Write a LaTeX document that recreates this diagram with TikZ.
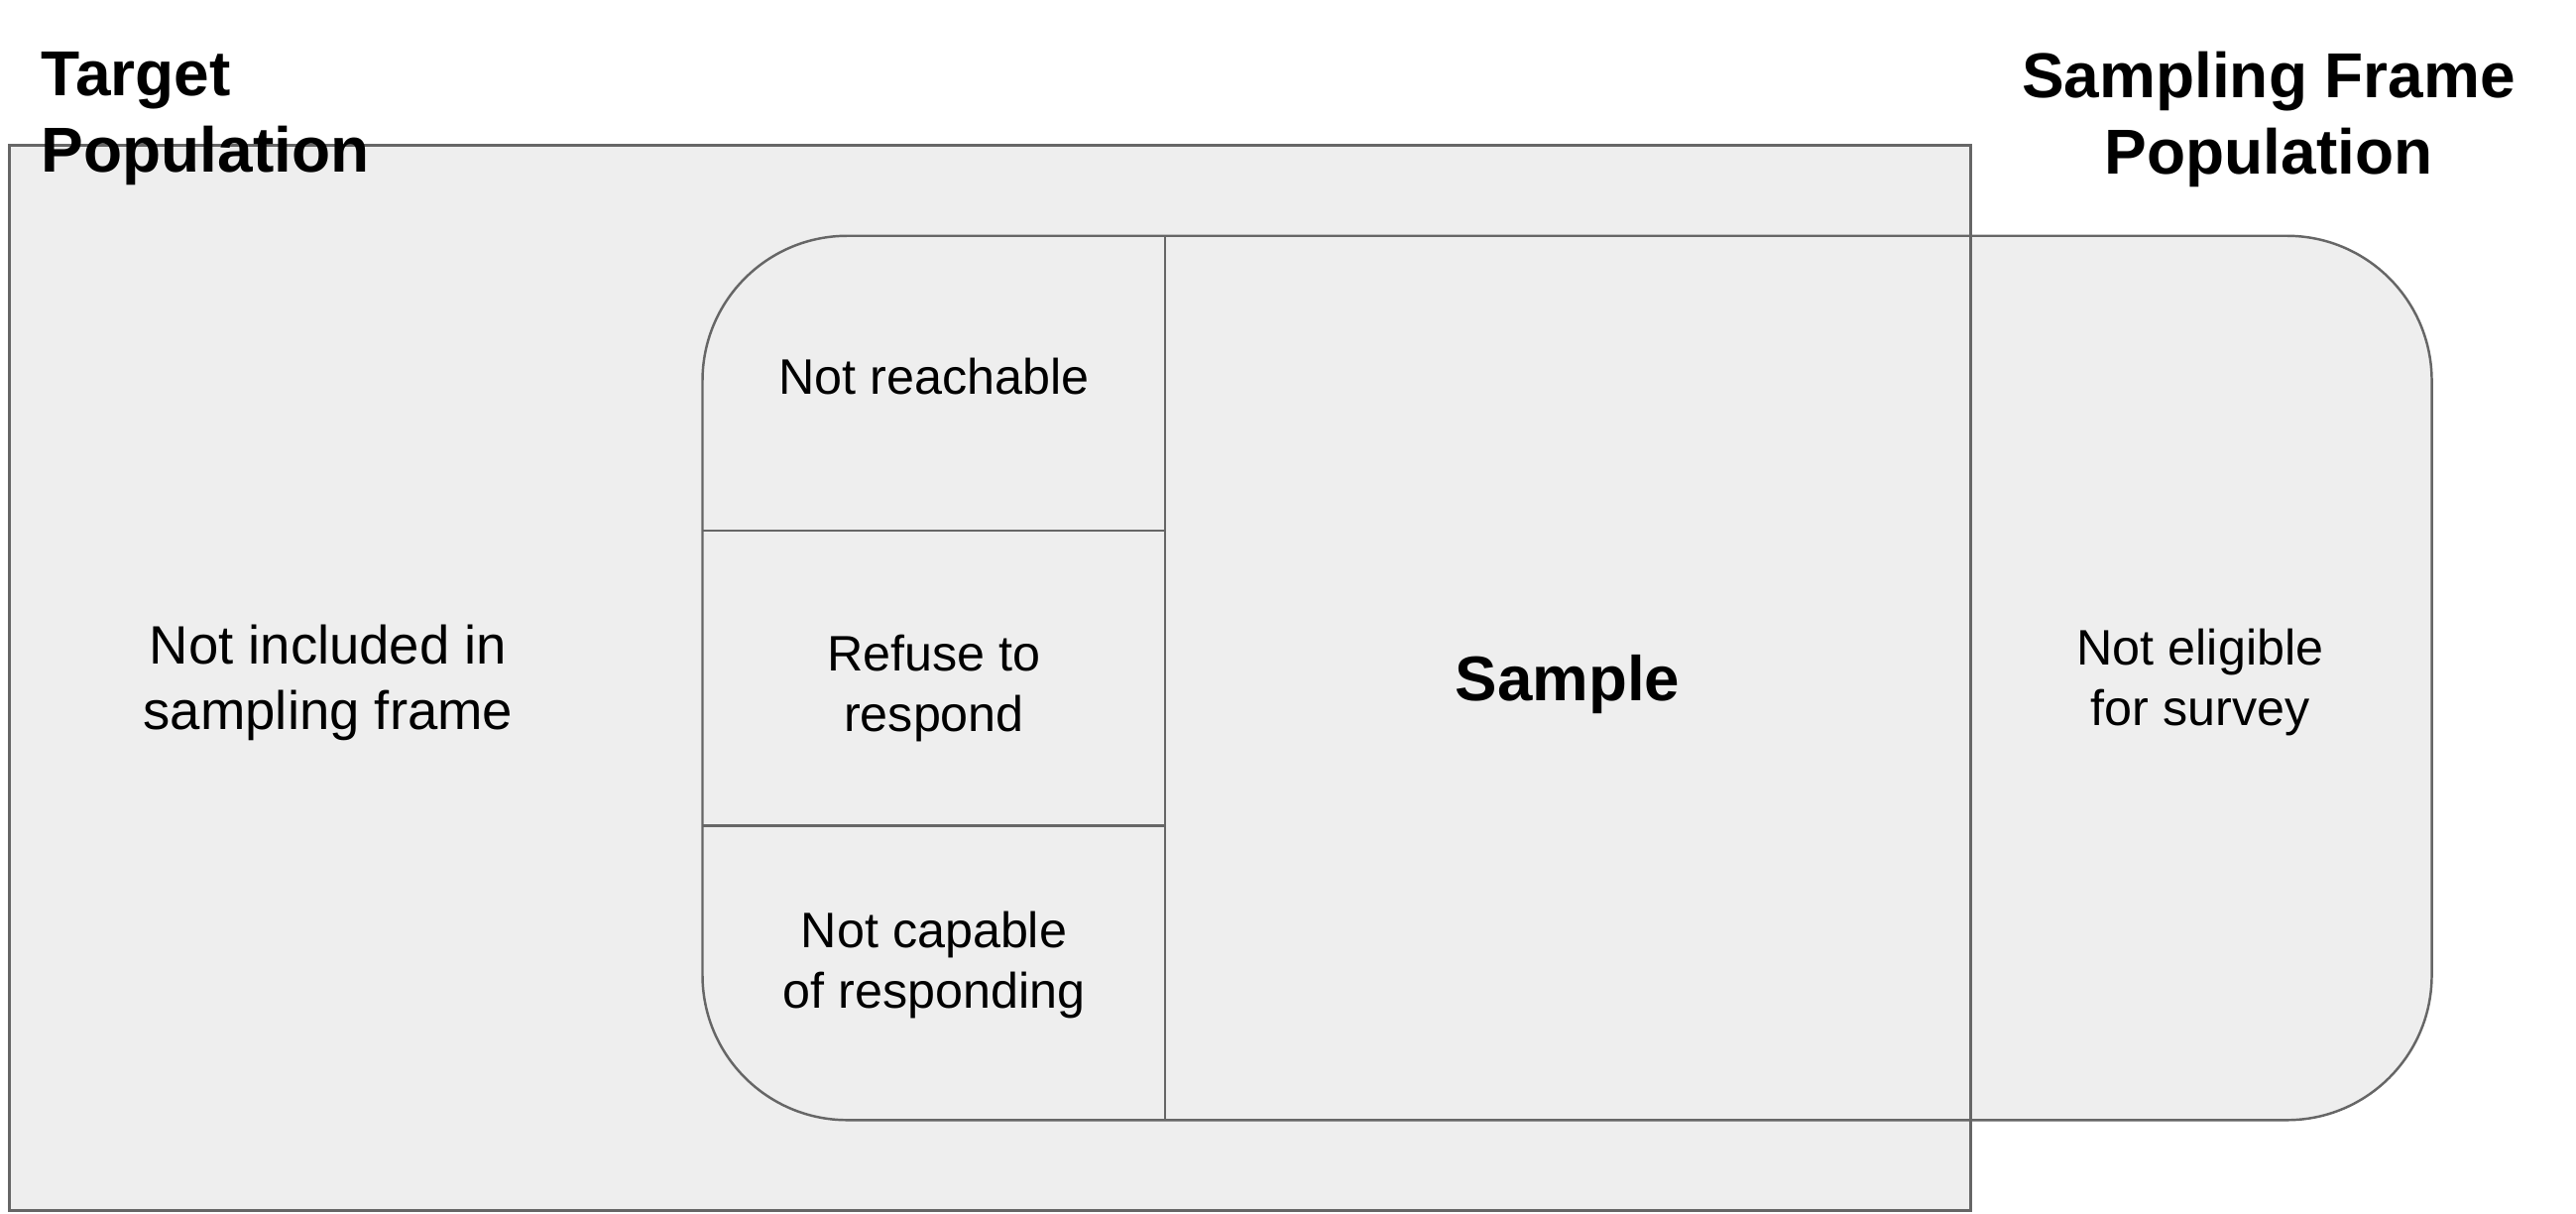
\documentclass[tikz,border=0pt]{standalone}
\usepackage{fontspec}
\setmainfont{Liberation Sans}
\usetikzlibrary{positioning}

\definecolor{boxfill}{HTML}{EEEEEE}
\definecolor{boxline}{HTML}{666666}

\tikzset{
  region/.style={draw=boxline, fill=boxfill, line width=0.7pt, inner sep=0pt, outer sep=0pt},
  divider/.style={draw=boxline, line width=0.7pt},
  cell/.style={inner sep=0pt, outer sep=0pt, minimum width=4.66cm, minimum height=2.97cm},
  txt/.style={inner sep=0pt, align=center, font=\fontsize{14.3}{17.3}\selectfont},
  heading/.style={inner sep=0pt, font=\bfseries\fontsize{18.2}{21.9}\selectfont},
}

\begin{document}
\begin{tikzpicture}[x=0.01cm, y=-0.01cm]
  \useasboundingbox (0,0) rectangle (2598,1223);

  % Define nodes
  \node[region, minimum width=19.77cm, minimum height=10.73cm] (target) at (998.5,683.5) {};
  \node[region, rounded corners=1.46cm, minimum width=17.43cm, minimum height=8.91cm] (frame) at (1580.5,683.5) {};

  \node[cell] (reach) at (942,386.5) {};
  \node[cell, below=0pt of reach] (refuse) {};
  \node[cell, below=0pt of refuse] (capable) {};

  \node[txt, yshift=0.07cm] (reachtxt) at (reach) {Not reachable};
  \node[txt, yshift=-0.1cm] (refusetxt) at (refuse) {Refuse to\\respond};
  \node[txt, yshift=0.08cm] (capabletxt) at (capable) {Not capable\\of responding};

  \node[txt, font=\fontsize{15.5}{18.8}\selectfont] (excluded) at (331,688) {Not included in\\sampling frame};
  \node[txt] (inelig) at (2219,688) {Not eligible\\for survey};
  \node[heading, font=\bfseries\fontsize{18.1}{22}\selectfont] (sample) at (1581,690) {Sample};

  \node[heading, anchor=west, align=left] (tpop) at (41,120) {Target\\Population};
  \node[heading, align=center] (fpop) at (2288,120) {Sampling Frame\\Population};

  % Dividers
  \draw[divider] (target.north east) -- (target.south east);
  \draw[divider] (reach.north east) -- (capable.south east);
  \draw[divider] (reach.south west) -- (reach.south east);
  \draw[divider] (refuse.south west) -- (refuse.south east);

\end{tikzpicture}
\end{document}
